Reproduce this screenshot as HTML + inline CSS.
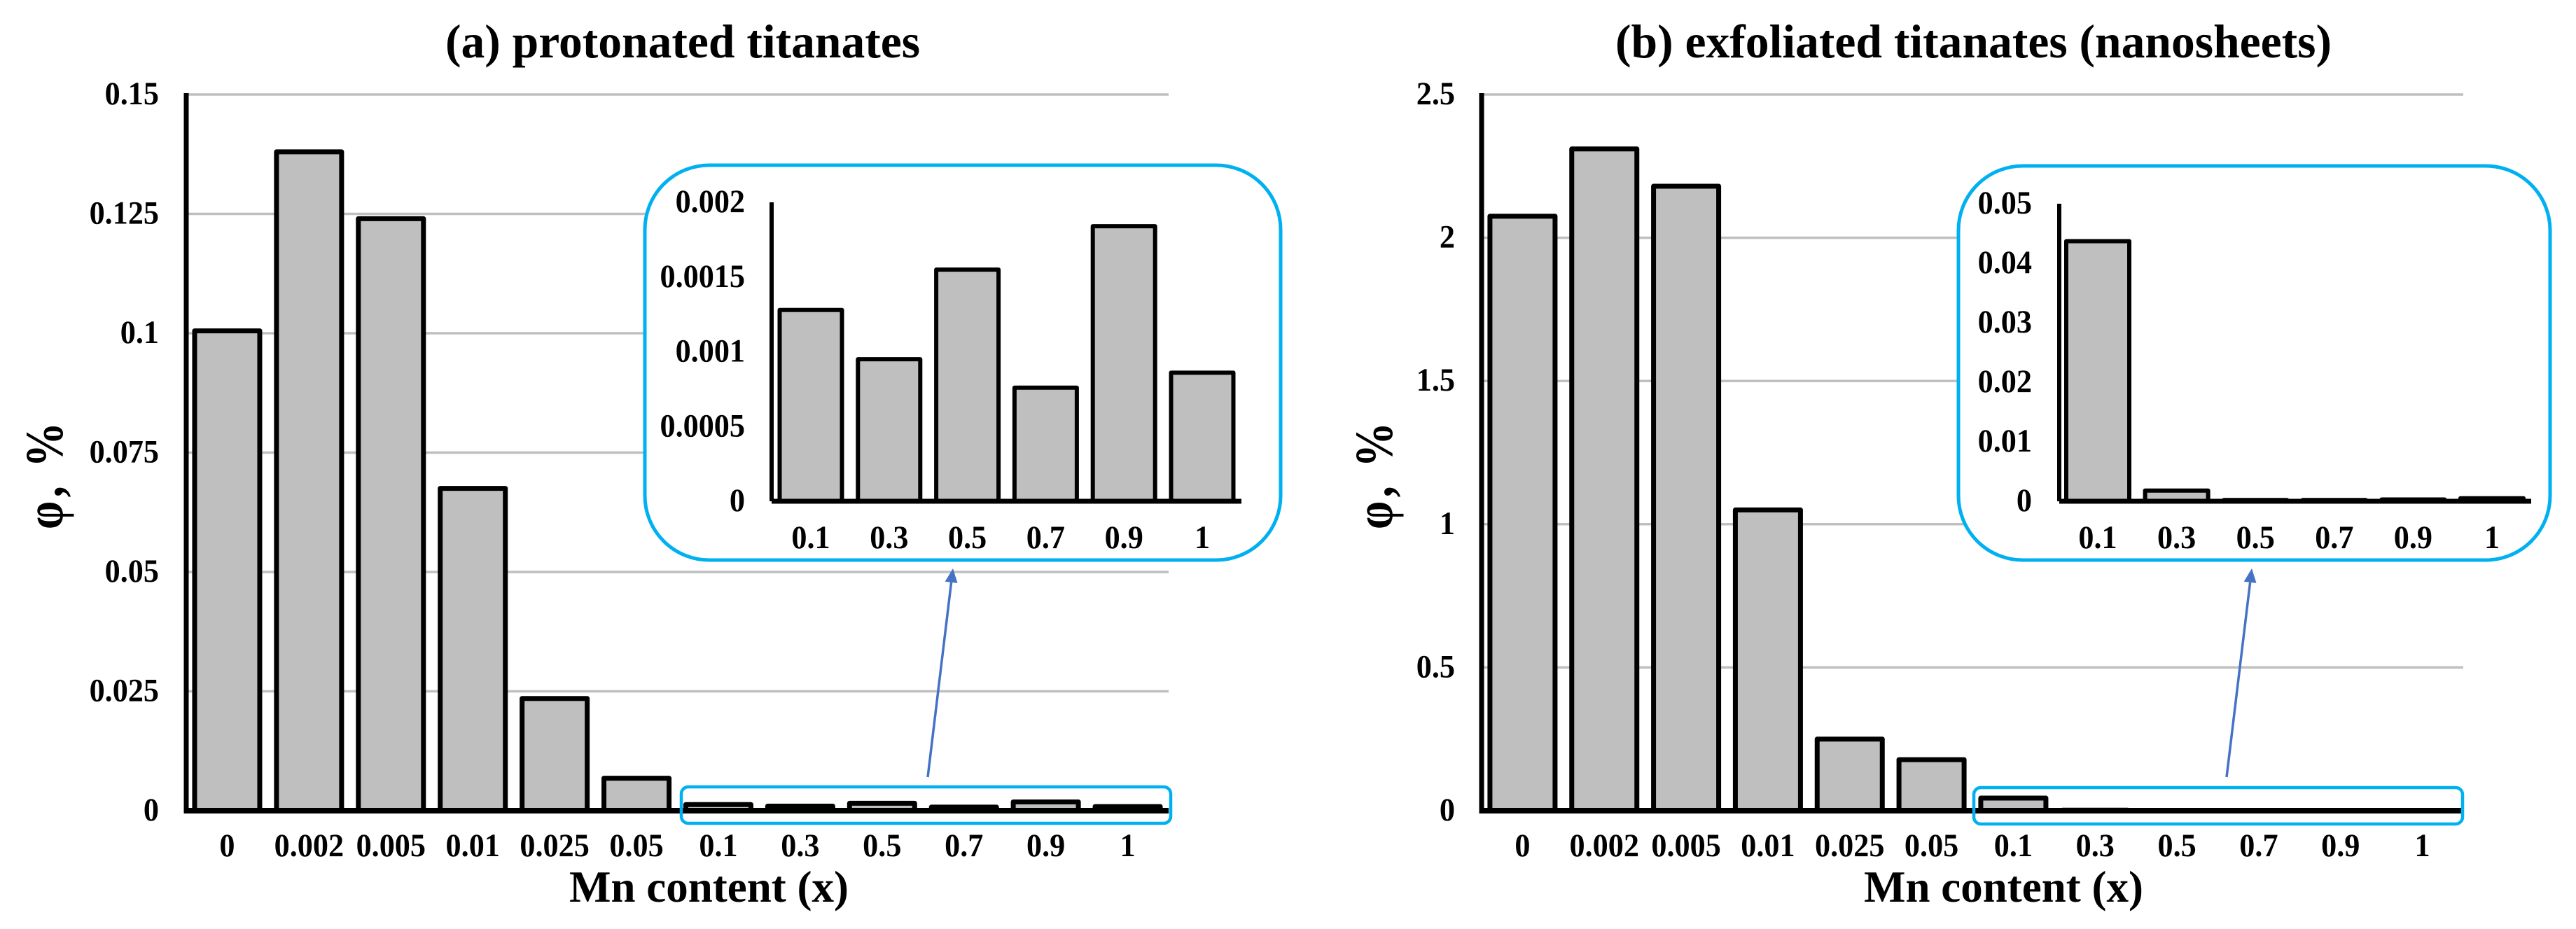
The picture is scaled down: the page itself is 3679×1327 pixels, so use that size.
<!DOCTYPE html>
<html lang="en">
<head>
<meta charset="utf-8">
<title>Mn content charts</title>
<style>
html,body{margin:0;padding:0;background:#fff;width:3679px;height:1327px;overflow:hidden}
svg{display:block}
text{font-family:"Liberation Serif",serif;font-weight:bold;fill:#000}
</style>
</head>
<body>
<svg id="figure" xmlns="http://www.w3.org/2000/svg" width="3679" height="1327" viewBox="0 0 3679 1327">
  <rect x="0" y="0" width="3679" height="1327" fill="#fff"/>
  <text x="636" y="82" font-size="68" textLength="678" lengthAdjust="spacingAndGlyphs">(a) protonated titanates</text>
  <text x="2307" y="82" font-size="68" textLength="1023" lengthAdjust="spacingAndGlyphs">(b) exfoliated titanates (nanosheets)</text>
  <text x="813" y="1288" font-size="64" textLength="399" lengthAdjust="spacingAndGlyphs">Mn content (x)</text>
  <text x="2662" y="1288" font-size="64" textLength="399" lengthAdjust="spacingAndGlyphs">Mn content (x)</text>
  <text transform="translate(89,756) rotate(-90) scale(0.85,1)" font-size="76" textLength="180" lengthAdjust="spacing">φ, %</text>
  <text transform="translate(1988,756) rotate(-90) scale(0.85,1)" font-size="76" textLength="180" lengthAdjust="spacing">φ, %</text>
</svg>
<script>
const categories = ['0','0.002','0.005','0.01','0.025','0.05','0.1','0.3','0.5','0.7','0.9','1'];
const insetCategories = ['0.1','0.3','0.5','0.7','0.9','1'];

const valuesA = [0.1005,0.138,0.124,0.0675,0.0235,0.0068,0.00128,0.00095,0.00155,0.00076,0.00184,0.00086];
const valuesB = [2.075,2.31,2.18,1.05,0.25,0.178,0.044,0.0018,0.0002,0.0002,0.0003,0.0005];
const insetValuesA = [0.00128,0.00095,0.00155,0.00076,0.00184,0.00086];
const insetValuesB = [0.0437,0.0018,0.0002,0.0002,0.0003,0.0005];

const ticksA = [0,0.025,0.05,0.075,0.1,0.125,0.15];
const ticksB = [0,0.5,1,1.5,2,2.5];
const insetTicksA = [0,0.0005,0.001,0.0015,0.002];
const insetTicksB = [0,0.01,0.02,0.03,0.04,0.05];

const svg = document.getElementById('figure');
const NS = 'http://www.w3.org/2000/svg';

function make(tag, props, parent) {
  const el = document.createElementNS(NS, tag);
  for (const k in props) el.setAttribute(k, props[k]);
  (parent || svg).appendChild(el);
  return el;
}

function label(str, x, y, anchor) {
  const el = make('text', {transform: 'translate(' + x + ',' + y + ') scale(0.94,1)', 'font-size': 47, 'text-anchor': anchor});
  el.textContent = str;
  return el;
}

function drawMain(id, cats, vals, ticks, x0, x1, yTop, yBase, labelRight) {
  const yMax = ticks[ticks.length - 1];
  const y = v => yBase - (v / yMax) * (yBase - yTop);
  const step = (x1 - x0) / cats.length;
  const xc = i => x0 + step * (i + 0.5);
  ticks.forEach(t => {
    if (t !== 0) {
      const g = make('line', {x1: x0, x2: x1, y1: y(t), y2: y(t), stroke: '#bfbfbf', 'stroke-width': 3.5});
      
      
    }
    const lab = label(String(t), labelRight, y(t) + 14, 'end');
    
    
  });
  vals.forEach((v, i) => {
    const r = make('rect', {x: xc(i) - 46.5, width: 93, y: y(v), height: Math.max(0, yBase - y(v)), fill: '#bfbfbf', stroke: '#000', 'stroke-width': 7, 'stroke-linejoin': 'round'});
    
    
    const lab = label(cats[i], xc(i), 1223, 'middle');
    
    
  });
  const ya = make('line', {x1: x0, x2: x0, y1: yTop - 2, y2: yBase + 4, stroke: '#000', 'stroke-width': 7});
  
  
  const xa = make('line', {x1: x0, x2: x1, y1: yBase, y2: yBase, stroke: '#000', 'stroke-width': 8});
  
  
}

function drawInset(id, cats, vals, ticks, bx0, bx1, by0, by1, ax, axEnd, yTop, yBase, firstCenter, step, barW, labelRight) {
  const box = make('rect', {x: bx0, y: by0, width: bx1 - bx0, height: by1 - by0, rx: 92, ry: 92, fill: '#fff', stroke: '#00b0f0', 'stroke-width': 5});
  
  
  const yMax = ticks[ticks.length - 1];
  const y = v => yBase - (v / yMax) * (yBase - yTop);
  ticks.forEach(t => {
    const lab = label(String(t), labelRight, y(t) + 14, 'end');
    
    
  });
  vals.forEach((v, i) => {
    const cx = firstCenter + step * i;
    const r = make('rect', {x: cx - barW / 2, width: barW, y: y(v), height: Math.max(0, yBase - y(v)), fill: '#bfbfbf', stroke: '#000', 'stroke-width': 6, 'stroke-linejoin': 'round'});
    
    
    const lab = label(cats[i], cx, 783, 'middle');
    
    
  });
  const ya = make('line', {x1: ax, x2: ax, y1: yTop, y2: yBase, stroke: '#000', 'stroke-width': 6});
  
  
  const xa = make('line', {x1: ax, x2: axEnd, y1: yBase, y2: yBase, stroke: '#000', 'stroke-width': 7});
  
  
}

function drawCallout(id, bx, by, bw, bh, sx, sy, tx, ty) {
  const r = make('rect', {x: bx, y: by, width: bw, height: bh, rx: 10, ry: 10, fill: 'none', stroke: '#00b0f0', 'stroke-width': 4.5});
  
  
  const dx = tx - sx, dy = ty - sy, len = Math.hypot(dx, dy), ux = dx / len, uy = dy / len;
  const bxx = tx - ux * 20, byy = ty - uy * 20;
  const line = make('line', {x1: sx, y1: sy, x2: bxx, y2: byy, stroke: '#4472c4', 'stroke-width': 3.5});
  
  
  const head = make('polygon', {points: tx + ',' + ty + ' ' + (bxx - uy * 9) + ',' + (byy + ux * 9) + ' ' + (bxx + uy * 9) + ',' + (byy - ux * 9), fill: '#4472c4'});
  
  
}

drawMain('a', categories, valuesA, ticksA, 266, 1669, 135, 1158, 227);
drawMain('b', categories, valuesB, ticksB, 2116, 3518, 135, 1158, 2078);
drawInset('a', insetCategories, insetValuesA, insetTicksA, 921, 1829, 236, 800, 1102, 1773, 289, 716, 1158, 111.8, 89, 1064);
drawInset('b', insetCategories, insetValuesB, insetTicksB, 2797, 3642, 237, 800, 2941, 3615, 291, 716, 2996, 112.6, 90, 2902);
drawCallout('a', 973, 1124, 699, 52, 1325, 1110, 1361, 812);
drawCallout('b', 2819, 1125, 698, 52, 3180, 1110, 3216, 812);
</script>
</body>
</html>
